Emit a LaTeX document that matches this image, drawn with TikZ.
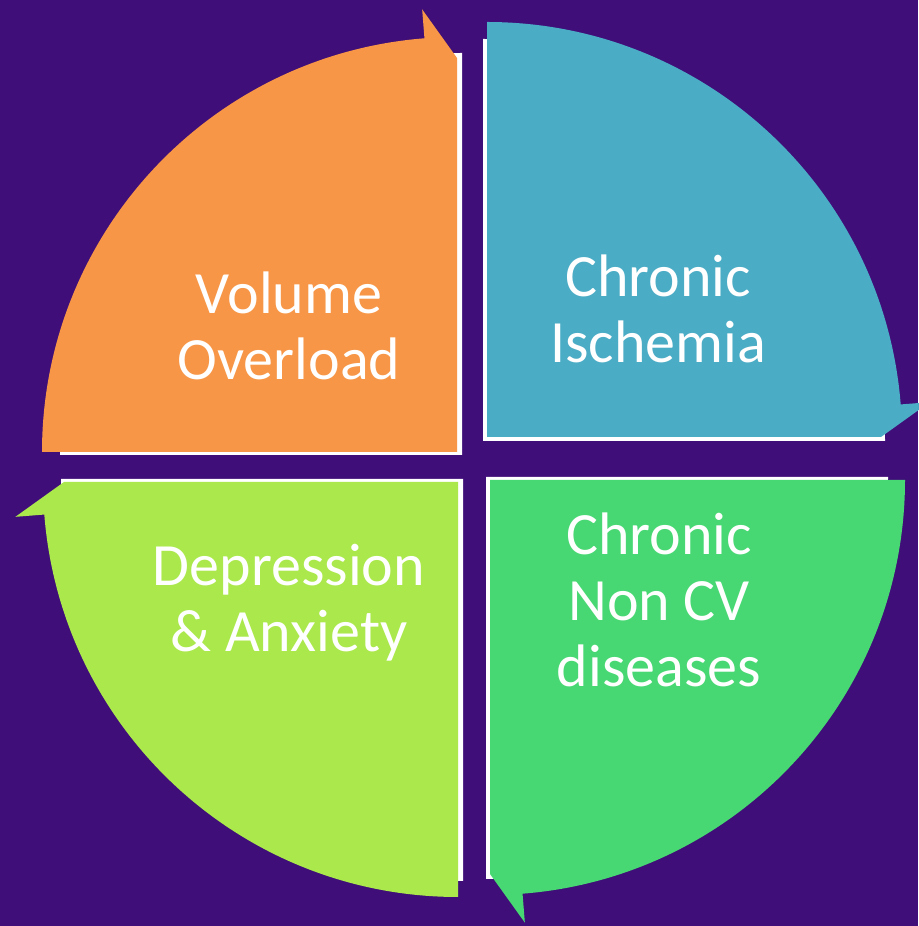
\documentclass[tikz,border=0pt]{standalone}
\usepackage{fontspec}
\setmainfont{Carlito}
\usetikzlibrary{calc}

\definecolor{bgpurple}{HTML}{3F0E78}
\definecolor{qorange}{HTML}{F79646}
\definecolor{qblue}{HTML}{4BACC6}
\definecolor{qgreen}{HTML}{48D873}
\definecolor{qlime}{HTML}{ABE84B}

% white backing quarter disc behind each segment (shows as a rim on the straight edges)
\newcommand{\segrim}[2]{%
  \fill[white] (#1) -- ++(#2:402pt)
    arc[start angle=#2, end angle=#2-90, radius=402pt] -- cycle;}
% quarter disc whose clockwise end turns into an arrow head
\newcommand{\segarrow}[3]{%
  \fill[#3] (#1) -- ++(#2:415pt)
    arc[start angle=#2, end angle=#2-85.5, radius=415pt]
    -- ($(#1)+(#2-85.5:444pt)$)
    -- ($(#1)+(#2-90:394pt)$) -- cycle;}

\begin{document}
\begin{tikzpicture}[x=1pt, y=1pt,
  lbl/.style={text=white, font=\fontsize{60}{66}\selectfont, inner sep=0pt, anchor=base}]
  \useasboundingbox (0,0) rectangle (918,926);
  \fill[bgpurple] (0,0) rectangle (918,926);

  % segment corners (near the centre of the cycle)
  \coordinate (co) at (457,474);
  \coordinate (cb) at (487,489);
  \coordinate (cg) at (490,446);
  \coordinate (cl) at (458,444);
  % corners of the white rims
  \coordinate (wo) at (462,471);
  \coordinate (wb) at (483,485);
  \coordinate (wg) at (486,449);
  \coordinate (wl) at (463,447);

  \segrim{wo}{180}
  \segrim{wb}{90}
  \segrim{wg}{0}
  \segrim{wl}{-90}

  \segarrow{co}{180}{qorange}
  \segarrow{cb}{90}{qblue}
  \segarrow{cg}{0}{qgreen}
  \segarrow{cl}{-90}{qlime}

  \node[lbl] (vo) at (289,612.5) {\begin{tabular}[t]{@{}c@{}}Volume\\Overload\end{tabular}};
  \node[lbl] (ci) at (658,629) {\begin{tabular}[t]{@{}c@{}}Chronic\\Ischemia\end{tabular}};
  \node[lbl] (cn) at (659,371.3) {\begin{tabular}[t]{@{}c@{}}Chronic\\Non CV\\diseases\end{tabular}};
  \node[lbl] (da) at (289,340.5) {\begin{tabular}[t]{@{}c@{}}Depression\\\& Anxiety\end{tabular}};
\end{tikzpicture}
\end{document}
